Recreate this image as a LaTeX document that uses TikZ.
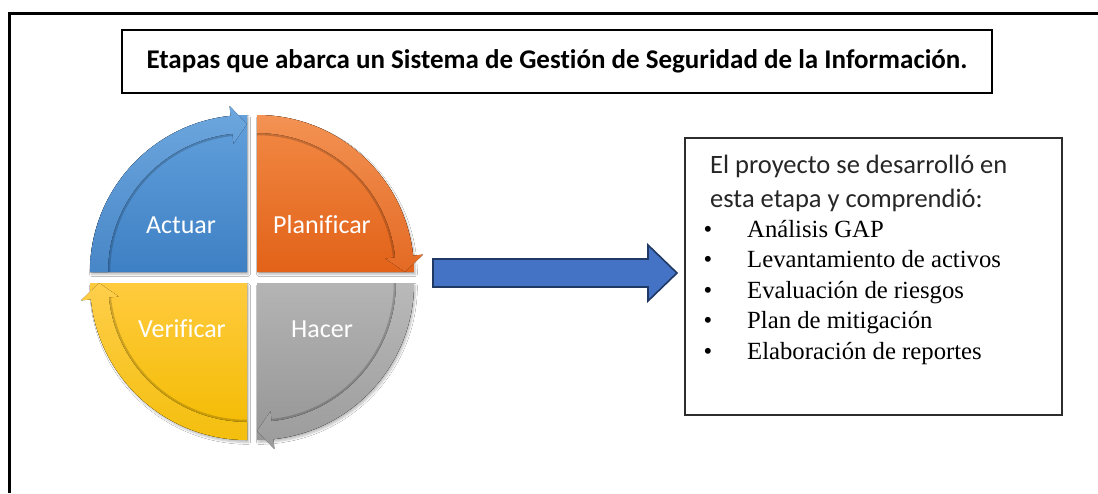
\documentclass[tikz,border=0pt]{standalone}
\usepackage{fontspec}
\setmainfont{Liberation Serif}
\newfontfamily\calibri[Ligatures=NoCommon]{Carlito}
\usetikzlibrary{
    calc,
    positioning,
    shadows.blur
}
\definecolor{ink}{RGB}{0,0,0}
\definecolor{boxline}{RGB}{45,45,45}
\definecolor{actuartop}{RGB}{98,160,220}
\definecolor{actuarbot}{RGB}{62,128,196}
\definecolor{planiftop}{RGB}{242,138,70}
\definecolor{planifbot}{RGB}{226,98,24}
\definecolor{hacertop}{RGB}{180,180,180}
\definecolor{hacerbot}{RGB}{150,150,150}
\definecolor{verifitop}{RGB}{255,203,62}
\definecolor{verifibot}{RGB}{243,187,0}
\definecolor{arrowfill}{RGB}{68,114,196}
\definecolor{arrowline}{RGB}{31,56,100}
\tikzset{
    line join=miter,
    pop/.style={
        blur shadow={shadow blur steps=6, shadow xshift=1.5pt, shadow yshift=-2.5pt, shadow opacity=25}
    },
    frame/.style={
        draw=ink,
        line width=3pt
    },
    titlebox/.style={
        rectangle,
        draw=ink,
        line width=1.3pt,
        minimum width=870pt,
        minimum height=63pt,
        inner sep=0pt,
        font=\calibri\bfseries\fontsize{27}{32}\selectfont,
        text=ink
    },
    stagebox/.style={
        rectangle,
        draw=boxline,
        line width=1.3pt,
        minimum width=377pt,
        minimum height=277pt,
        inner sep=0pt
    },
    quadrant/.style={pop},
    bandedge/.style={
        draw=black,
        opacity=0.18,
        line width=2.5pt
    },
    stagelabel/.style={
        anchor=base,
        text=white,
        inner sep=0pt,
        font=\calibri\fontsize{26}{30}\selectfont
    },
    introtext/.style={
        anchor=base west,
        inner sep=0pt,
        text=ink!85,
        font=\calibri\fontsize{26.5}{30}\selectfont
    },
    itemtext/.style={
        anchor=base west,
        inner sep=0pt,
        text=ink,
        font=\fontsize{24.7}{30}\selectfont
    },
    itemdot/.style={
        anchor=base,
        inner sep=0pt,
        text=ink,
        font=\fontsize{24.7}{30}\selectfont
    },
    bigarrow/.style={
        fill=arrowfill,
        draw=arrowline,
        line width=1.6pt
    }
}

\begin{document}
\begin{tikzpicture}[x=1pt, y=1pt]
\fill[white] (0,0) rectangle (1098,-493);
\useasboundingbox (0,0) rectangle (1098,-493);

% Outer frame (open to the right and bottom)
\draw[frame] (9,-493) -- (9,-13) -- (1098,-13);

% Title
\node[titlebox] (title) at (557,-61.5) {Etapas que abarca un Sistema de Gestión de Seguridad de la Información.};

% Cycle: four quarter discs with curved arrows
\foreach \name/\cx/\cy/\a/\qtop/\qbot in {
    actuar/247/-272/180/actuartop/actuarbot,
    planif/257/-272/90/planiftop/planifbot,
    hacer/257/-283/0/hacertop/hacerbot,
    verifi/247/-283/-90/verifitop/verifibot} {
    \coordinate (\name) at (\cx,\cy);
    \fill[quadrant, top color=\qtop, bottom color=\qbot]
        (\name) -- +(\a:157) arc[start angle=\a, end angle=\a-90, radius=157] -- cycle;
    \draw[bandedge] ($(\name)+(\a:138)$) arc[start angle=\a, end angle=\a-84, radius=138];
    \fill[top color=\qtop!93!white, bottom color=\qbot!95!white]
        ($(\name)+(\a:157)$) arc[start angle=\a, end angle=\a-84, radius=157]
        -- ($(\name)+(\a-84:167)$) -- ($(\name)+(\a-90:148)$) -- ($(\name)+(\a-84:129)$)
        -- ($(\name)+(\a-84:139)$) arc[start angle=\a-84, end angle=\a, radius=139] -- cycle;
}

\node[stagelabel] (lbl-actuar) at (181,-233) {Actuar};
\node[stagelabel] (lbl-planif) at (322,-233) {Planificar};
\node[stagelabel] (lbl-verifi) at (182,-337) {Verificar};
\node[stagelabel] (lbl-hacer) at (322,-337) {Hacer};

% Block arrow
\draw[bigarrow] (433,-259) -- (648,-259) -- (648,-245) -- (677,-273)
    -- (648,-301) -- (648,-287) -- (433,-287) -- cycle;

% Stage box
\node[stagebox] (stage) at (873.5,-276.5) {};
\node[introtext] (intro1) at (710,-173) {El proyecto se desarrolló en};
\node[introtext] (intro2) at (710,-207) {esta etapa y comprendió:};

\foreach \task [count=\i] in {Análisis GAP, Levantamiento de activos, Evaluación de riesgos, Plan de mitigación, Elaboración de reportes} {
    \node[itemdot] (dot\i) at (708,{-237-30.5*(\i-1)}) {\textbullet};
    \node[itemtext] (item\i) at (747,{-237-30.5*(\i-1)}) {\task};
}
\end{tikzpicture}
\end{document}
